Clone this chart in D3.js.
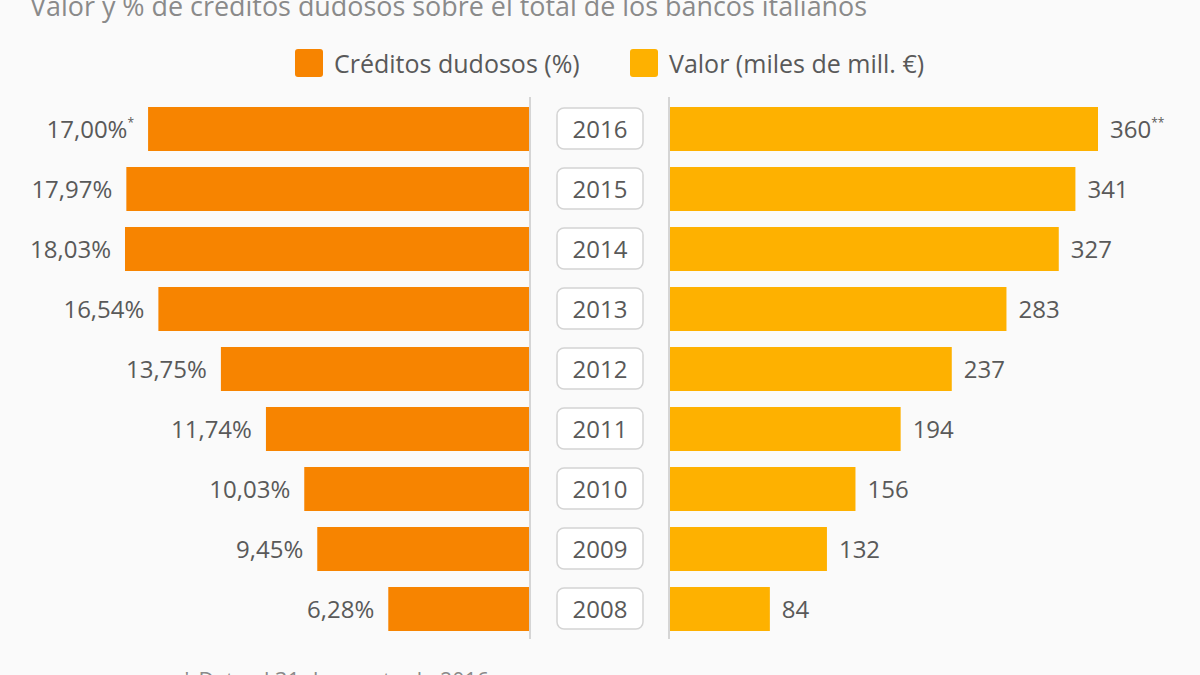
<!DOCTYPE html>
<html>
<head>
<meta charset="utf-8">
<script src="https://cdn.jsdelivr.net/npm/d3@7"></script>
<style>
  html, body { margin: 0; padding: 0; background: #fafafa; }
  svg { display: block; font-family: "Open Sans", sans-serif; }
</style>
</head>
<body>
<svg id="chart" width="1200" height="675"></svg>
<script>
const years = ["2016", "2015", "2014", "2013", "2012", "2011", "2010", "2009", "2008"];
const pctValues = [17.00, 17.97, 18.03, 16.54, 13.75, 11.74, 10.03, 9.45, 6.28];
const pctLabels = ["17,00%", "17,97%", "18,03%", "16,54%", "13,75%", "11,74%", "10,03%", "9,45%", "6,28%"];
const pctNotes = ["*", "", "", "", "", "", "", "", ""];
const amountValues = [360, 341, 327, 283, 237, 194, 156, 132, 84];
const amountNotes = ["**", "", "", "", "", "", "", "", ""];
const seriesNames = ["Créditos dudosos (%)", "Valor (miles de mill. €)"];
const subtitle = "Valor y % de créditos dudosos sobre el total de los bancos italianos";
const footnote = "* Dato al 31 de agosto de 2016";

const colorPct = "#f78400";
const colorAmt = "#feb100";
const textColor = "#595959";

const svg = d3.select("#chart");
svg.append("rect").attr("width", 1200).attr("height", 675).attr("fill", "#fafafa");

// subtitle (cut off at top)
svg.append("text").attr("x", 30).attr("y", 16)
  .attr("font-size", 26.9).attr("fill", "#8a8a8a").text(subtitle);

// scales
const y = d3.scaleBand().domain(years).range([99, 639]).paddingInner(0.2667).paddingOuter(0.1333);
const xL = d3.scaleLinear().domain([0, 18.03]).range([529, 125]);
const xR = d3.scaleLinear().domain([0, 360]).range([670, 1098]);

// legend
const legend = svg.append("g");
const legItems = [
  {name: seriesNames[0], color: colorPct, x: 295},
  {name: seriesNames[1], color: colorAmt, x: 630}
];
legItems.forEach(d => {
  legend.append("rect").attr("x", d.x).attr("y", 49).attr("width", 28).attr("height", 28)
    .attr("rx", 3).attr("fill", d.color);
  legend.append("text").attr("x", d.x + 39).attr("y", 73).attr("font-size", 25)
    .attr("fill", textColor).text(d.name);
});

// vertical separators
[530, 669].forEach(x => {
  svg.append("line").attr("x1", x).attr("x2", x).attr("y1", 97).attr("y2", 639)
    .attr("stroke", "#c8c8c8").attr("stroke-width", 1.5);
});

const rows = years.map((yr, i) => ({yr, p: pctValues[i], pl: pctLabels[i], pn: pctNotes[i],
  a: amountValues[i], an: amountNotes[i]}));

// left bars
svg.append("g").selectAll("rect").data(rows).join("rect")
  .attr("x", d => xL(d.p)).attr("y", d => y(d.yr))
  .attr("width", d => xL(0) - xL(d.p)).attr("height", y.bandwidth())
  .attr("fill", colorPct);

// right bars
svg.append("g").selectAll("rect").data(rows).join("rect")
  .attr("x", xR(0)).attr("y", d => y(d.yr))
  .attr("width", d => xR(d.a) - xR(0)).attr("height", y.bandwidth())
  .attr("fill", colorAmt);

// left labels
const ll = svg.append("g").selectAll("text").data(rows).join("text")
  .attr("x", d => xL(d.p) - 14).attr("y", d => y(d.yr) + y.bandwidth() / 2 + 9)
  .attr("text-anchor", "end").attr("font-size", 24).attr("fill", textColor);
ll.append("tspan").text(d => d.pl);
ll.append("tspan").attr("font-size", 12).attr("dy", -11).text(d => d.pn);

// right labels
const rl = svg.append("g").selectAll("text").data(rows).join("text")
  .attr("x", d => xR(d.a) + 12).attr("y", d => y(d.yr) + y.bandwidth() / 2 + 9)
  .attr("text-anchor", "start").attr("font-size", 24).attr("fill", textColor);
rl.append("tspan").text(d => d.a);
rl.append("tspan").attr("font-size", 12).attr("dy", -11).text(d => d.an);

// year boxes
const yb = svg.append("g").selectAll("g").data(rows).join("g")
  .attr("transform", d => `translate(600, ${y(d.yr) + y.bandwidth() / 2})`);
yb.append("rect").attr("x", -43).attr("y", -21).attr("width", 86).attr("height", 41)
  .attr("rx", 7).attr("fill", "#ffffff").attr("stroke", "#d4d4d4").attr("stroke-width", 1.5);
yb.append("text").attr("text-anchor", "middle").attr("y", 9).attr("font-size", 24)
  .attr("fill", textColor).text(d => d.yr);

// footnote (cut off at bottom)
svg.append("text").attr("x", 181).attr("y", 688).attr("font-size", 21.5)
  .attr("fill", "#8a8a8a").text(footnote);
</script>
</body>
</html>
